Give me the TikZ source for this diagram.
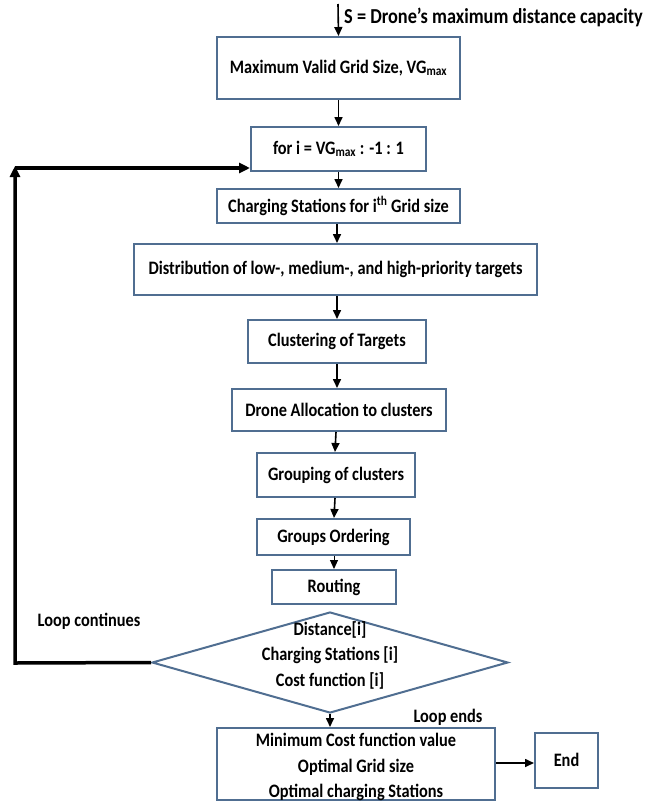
\documentclass[tikz,border=0pt]{standalone}
\usepackage{fontspec}
\setmainfont{Carlito}[FakeStretch=0.86]
\usetikzlibrary{shapes.geometric,arrows.meta}
\definecolor{boxblue}{RGB}{80,110,145}
\tikzset{
  box/.style={draw=boxblue, line width=2pt, fill=white, inner sep=0pt, align=center,
    font=\bfseries\fontsize{19}{25.5}\selectfont},
  lbl/.style={inner sep=0pt, align=center, font=\bfseries\fontsize{19}{25.5}\selectfont},
  arr/.style={-{Triangle[length=9pt,width=8pt]}, line width=1.6pt},
  looparr/.style={-{Triangle[length=11pt,width=10pt]}, line width=3.5pt},
}
\begin{document}
\begin{tikzpicture}[x=1pt,y=-1pt]
\useasboundingbox (0,0) rectangle (651,801);
% top input
\coordinate (s) at (338,4);
\node[lbl, anchor=west, font=\bfseries\fontsize{21.3}{24}\selectfont] (stext) at (344,17) {S = Drone’s maximum distance capacity};
% boxes
\node[box, minimum width=243, minimum height=62] (b1) at (338.5,68) {Maximum Valid Grid Size, VG\textsubscript{max}};
\node[box, minimum width=175, minimum height=44] (b2) at (338.5,149) {for i = VG\textsubscript{max} : -1 : 1};
\node[box, minimum width=243, minimum height=34] (b3) at (338.5,206) {Charging Stations for i\textsuperscript{th} Grid size};
\node[box, minimum width=403, minimum height=51] (b4) at (335.5,269.5) {Distribution of low-, medium-, and high-priority targets};
\node[box, minimum width=178, minimum height=43] (b5) at (337,341.5) {Clustering of Targets};
\node[box, minimum width=214, minimum height=42] (b6) at (339,410) {Drone Allocation to clusters};
\node[box, minimum width=158, minimum height=44] (b7) at (336,475) {Grouping of clusters};
\node[box, minimum width=153, minimum height=36] (b8) at (333.5,537) {Groups Ordering};
\node[box, minimum width=124, minimum height=34] (b9) at (334,587) {Routing};
\node[diamond, draw=boxblue, line width=2pt, fill=white, minimum width=356, minimum height=101, inner sep=0pt] (dia) at (330,662.5) {};
\node[lbl] (diat) at (330,655) {Distance[i]\\Charging Stations [i]\\Cost function [i]};
\node[box, minimum width=278, minimum height=72] (b10) at (356,764) {};
\node[lbl] (b10t) at (356,767) {Minimum Cost function value\\Optimal Grid size\\Optimal charging Stations};
\node[box, minimum width=63, minimum height=55] (end) at (566.5,760) {End};
% labels
\node[lbl] (lc) at (89,621) {Loop continues};
\node[lbl] (le) at (448,717) {Loop ends};
% connectors
\draw[arr] (s) -- (b1.north);
\draw[arr] (b1.south) -- (b2.north);
\draw[arr] (b2.south) -- (b3.north);
\draw[arr] (b3.south -| 337,0) -- (b4.north -| 337,0);
\draw[arr] (b4.south -| 337,0) -- (b5.north -| 337,0);
\draw[arr] (b5.south -| 337,0) -- (b6.north -| 337,0);
\draw[arr] (b6.south -| 336,0) -- (b7.north -| 335,0);
\draw[arr] (b7.south -| 335,0) -- (b8.north -| 334,0);
\draw[arr, line width=1pt] (b8.south -| 334,0) -- (b9.north -| 334,0);
\draw[arr] (dia.south) -- (b10.north -| dia.south);
\draw[arr] (b10.east |- 0,763) -- (end.west |- 0,763);
% loop back
\coordinate (lcorner) at (15,663);
\coordinate (ltop) at (15,166);
\coordinate (lh) at (15,168);
\draw[looparr] (dia.west) -- (lcorner) -- (ltop);
\draw[looparr] (lh) -- (lh -| b2.west);
\end{tikzpicture}
\end{document}
